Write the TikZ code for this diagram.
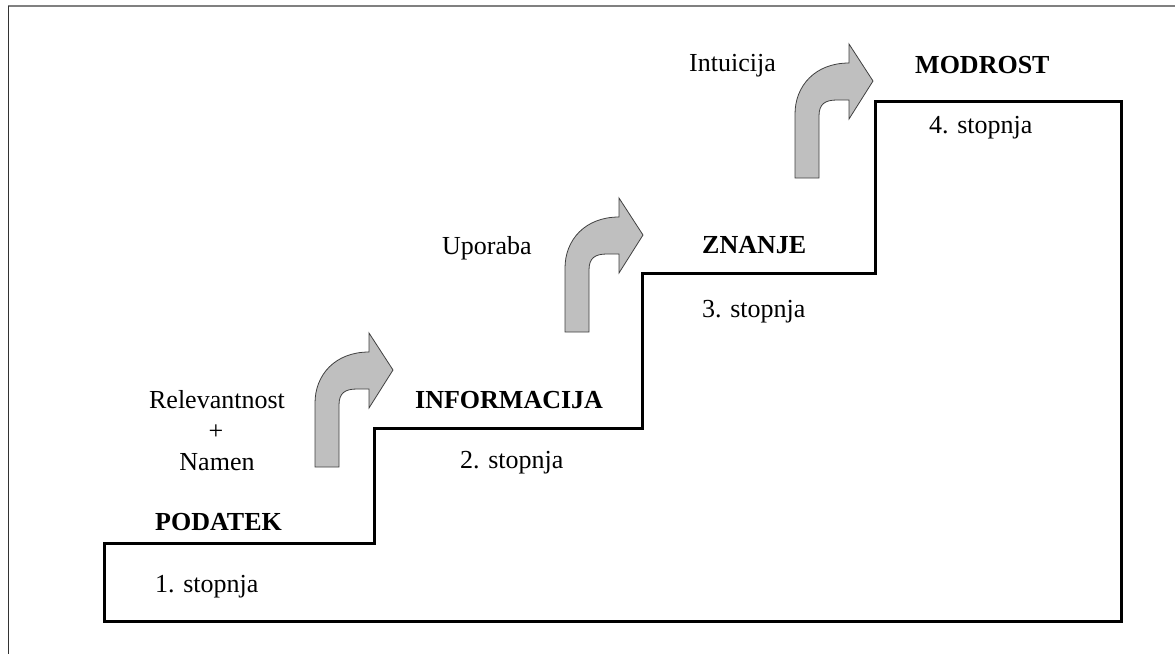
\documentclass[tikz,border=0pt]{standalone}
\usepackage{fontspec}
\setmainfont{Liberation Serif}
\begin{document}
\begin{tikzpicture}[x=1pt,y=-1pt,
  lbl/.style={inner sep=0pt,anchor=base west,font=\fontsize{26}{31}\selectfont},
  lblc/.style={inner sep=0pt,anchor=base,font=\fontsize{26}{31}\selectfont},
  head/.style={lbl,font=\fontsize{26}{31}\selectfont\bfseries},
  stairs/.style={line width=3pt,miter limit=10},
  arrowfill/.style={draw=black!75,fill=black!25,line width=0.8pt,line join=miter},
  bent arrow/.pic={
    \draw[arrowfill] (0,0) -- (0,-64)
      .. controls (0,-92) and (20,-115) .. (54,-115)
      -- (54,-134) -- (78,-97) -- (54,-59) -- (54,-78) -- (42,-78)
      .. controls (30,-78) and (24,-74) .. (24,-62)
      -- (24,0) -- cycle;
  }]
\useasboundingbox (0,0) rectangle (1175,654);

% page frame: top and left rules
\draw[black!50,line width=1.8pt] (8,6) -- (1175,6);
\draw[black!80,line width=1pt] (8,6) -- (8,654);

% the staircase
\draw[stairs] (104,543) -- (374,543) -- (374,428) -- (642,428) -- (642,273)
  -- (875,273) -- (875,101) -- (1121,101) -- (1121,621) -- (104,621) -- cycle;

% bent arrows between the steps
\pic at (315,467) {bent arrow};
\pic at (565,332) {bent arrow};
\pic at (795,178) {bent arrow};

% step names
\node[head] (podatek) at (155,530) {PODATEK};
\node[head] (informacija) at (415,408) {INFORMACIJA};
\node[head] (znanje) at (702,253) {ZNANJE};
\node[head] (modrost) at (915,73) {MODROST};

% step numbers
\node[lbl] (s1) at (155,592) {1. stopnja};
\node[lbl] (s2) at (460,468) {2. stopnja};
\node[lbl] (s3) at (702,317) {3. stopnja};
\node[lbl] (s4) at (929,133) {4. stopnja};

% transitions
\node[lblc] (rel) at (217,408) {Relevantnost};
\node[lblc] (plus) at (216,439) {+};
\node[lblc] (namen) at (217,470) {Namen};
\node[lbl] (uporaba) at (442,254) {Uporaba};
\node[lbl] (intuicija) at (689,71) {Intuicija};
\end{tikzpicture}
\end{document}
